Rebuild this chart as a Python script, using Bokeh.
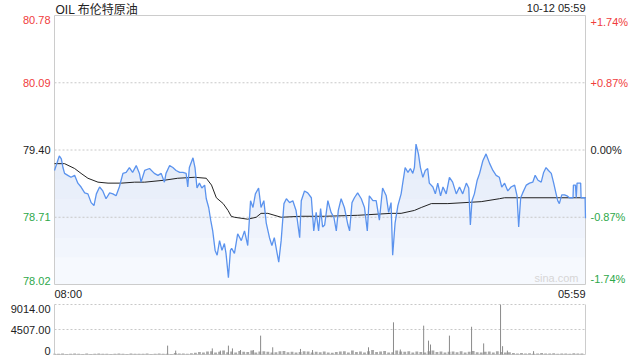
from bokeh.plotting import figure
from bokeh.models import Range1d, Label
from bokeh.layouts import column
from bokeh.embed import file_html
from bokeh.resources import INLINE

# ---------------- data ----------------
title_text = "OIL 布伦特原油"
stamp_text = "10-12 05:59"
start_label = "08:00"
end_label = "05:59"
watermark = "sina.com"
prev_close = 79.40
price_ticks = [80.78, 80.09, 79.40, 78.71, 78.02]
price_tick_labels = ["80.78", "80.09", "79.40", "78.71", "78.02"]
pct_tick_labels = ["+1.74%", "+0.87%", "0.00%", "-0.87%", "-1.74%"]
vol_ticks = [9014, 4507, 0]
vol_tick_labels = ["9014.00", "4507.00", "0"]
t_end = 1319  # minutes from 08:00 to 05:59

price_t = [0, 8, 12, 17, 21, 25, 33, 41, 50, 58, 66, 75, 83, 91, 98, 104, 112, 120, 128, 137, 145, 153, 161, 170, 178, 186, 194, 203, 211, 215, 224,
           236, 248, 257, 265, 273, 277, 286, 294, 302, 311, 319, 327, 331, 335, 344, 349, 354, 360, 366, 373, 377, 383, 388, 393, 399, 404, 410, 416, 422, 426, 432, 437, 440, 447,
           455, 464, 472, 480, 487, 493, 499, 507, 513, 520, 526, 534, 540, 546, 553, 557, 563, 570, 576, 584, 592, 600, 609, 613, 621, 629, 638, 644, 650, 656, 661, 666, 671,
           679, 687, 694, 700, 705, 712, 720, 729, 733, 739, 745, 753, 762, 770, 777, 782, 791, 799, 807, 815, 824, 830, 836, 840, 846, 853, 861, 865, 871, 878, 884, 890, 894,
           898, 904, 909, 915, 921, 927, 931, 940, 946, 952, 959, 965, 973, 981, 989, 998, 1006, 1014, 1023, 1029, 1033, 1037, 1043, 1050, 1056, 1064, 1072, 1081, 1089, 1097, 1105, 1111, 1118,
           1126, 1134, 1143, 1149, 1153, 1158, 1163, 1172, 1180, 1188, 1194, 1201, 1209, 1215, 1221, 1227, 1234, 1240, 1246, 1250, 1254, 1260, 1267, 1273, 1279, 1288, 1289, 1294, 1296, 1298, 1307, 1308, 1318, 1319]
price_v = [79.19, 79.29, 79.34, 79.31, 79.22, 79.16, 79.14, 79.12, 79.14, 79.06, 79.02, 78.96, 78.95, 78.86, 78.83, 78.95, 79.02, 78.98, 78.90, 78.96, 78.95, 78.93, 79.02, 79.16, 79.17, 79.22, 79.17, 79.24, 79.16, 79.07, 79.19,
           79.21, 79.16, 79.14, 79.16, 79.07, 79.16, 79.24, 79.22, 79.19, 79.17, 79.17, 79.16, 79.02, 79.22, 79.32, 79.22, 79.01, 79.06, 79.01, 79.04, 78.90, 78.81, 78.68, 78.57, 78.37, 78.32, 78.47, 78.37, 78.44, 78.34, 78.09, 78.37, 78.39, 78.34,
           78.54, 78.47, 78.57, 78.42, 78.88, 78.81, 78.95, 79.01, 78.81, 78.88, 78.65, 78.50, 78.42, 78.50, 78.34, 78.25, 78.47, 78.85, 78.90, 78.86, 78.88, 78.78, 78.50, 78.88, 78.98, 78.96, 78.91, 78.57, 78.76, 78.57, 78.80, 78.61, 78.63,
           78.88, 78.76, 78.71, 78.57, 78.78, 78.90, 78.81, 78.63, 78.57, 78.86, 78.91, 78.96, 78.90, 78.81, 78.57, 78.93, 78.88, 78.88, 78.68, 79.01, 78.93, 78.76, 78.86, 78.32, 78.65, 78.83, 78.95, 79.06, 79.22, 79.17, 79.21, 79.16, 79.22,
           79.46, 79.36, 79.22, 79.12, 79.19, 79.21, 79.06, 79.02, 78.95, 79.06, 78.93, 79.02, 78.95, 79.12, 79.07, 78.95, 79.02, 78.95, 79.06, 79.01, 78.63, 78.88, 78.95, 79.09, 79.16, 79.29, 79.36, 79.26, 79.19, 79.14, 79.12, 79.02, 79.06,
           78.98, 79.02, 79.04, 78.93, 78.61, 78.91, 78.96, 79.04, 79.06, 79.07, 79.14, 79.09, 79.07, 79.17, 79.22, 79.19, 79.16, 79.06, 78.95, 78.88, 78.85, 78.94, 78.94, 78.93, 78.91, 78.91, 79.04, 79.04, 78.91, 79.06, 79.06, 78.91, 78.91, 78.70]

avg_t = [0, 25, 50, 66, 83, 108, 133, 166, 199, 224, 273, 306, 348, 377, 390, 402, 419, 431, 439, 447, 480, 501, 513, 530, 563, 613, 671, 753, 836, 861, 894, 911, 936, 977, 1060, 1105, 1118, 1319]
avg_v = [79.26, 79.26, 79.21, 79.16, 79.11, 79.07, 79.06, 79.06, 79.07, 79.07, 79.09, 79.11, 79.12, 79.11, 79.04, 78.91, 78.85, 78.78, 78.72, 78.71, 78.69, 78.71, 78.75, 78.75, 78.71, 78.72, 78.72, 78.73, 78.75, 78.75, 78.78, 78.81, 78.85, 78.85, 78.87, 78.90, 78.91, 78.91]

# volume: background bars (every 10 minutes) and the visible spikes
vol_base = [150, 120, 180, 100, 140, 200, 130, 110, 160, 90, 140, 170, 120, 150, 100, 130, 180, 140, 110, 160, 120, 150, 130, 190, 100, 140, 160, 120, 150, 110, 250, 180, 200, 140, 220,
            300, 450, 380, 520, 600, 350, 480, 700, 420, 550, 380, 620, 500, 450, 700, 380, 520, 600, 480, 350, 420, 580, 650, 400, 500, 380, 450, 600, 520, 350, 480, 420, 550, 380, 300,
            450, 520, 600, 380, 700, 450, 520, 380, 600, 800, 450, 520, 650, 380, 420, 700, 550, 480, 600, 350, 520, 450, 380, 600, 700, 450, 520, 380, 480, 550, 420, 600, 380, 500, 650,
            420, 350, 480, 520, 380, 600, 450, 350, 400,
            250, 200, 280, 180, 220, 150, 200, 250, 180, 160, 220, 140, 200, 180, 150, 220, 170, 200]
spike_t = [281, 301, 392, 412, 432, 442, 462, 494, 512, 542, 611, 641, 780, 842, 859, 917, 929, 934, 981, 1036, 1066, 1108, 1113, 1125, 1190]
spike_v = [1600, 700, 1100, 700, 1600, 1100, 800, 800, 3400, 1300, 1000, 800, 1300, 5800, 900, 5200, 2500, 1800, 3400, 5000, 2000, 9000, 1500, 700, 600]

# ---------------- layout (pixels) ----------------
RED = "#f03c3c"
GREEN = "#2ea84a"
DARK = "#222222"
BLUE = "#5b93ee"
FONT = "Liberation Sans"
CJK = "Liberation Sans, Noto Sans CJK SC"

W = 640
X0, X1 = 54, 585            # plot area left/right in pixels
H1, PT, PB = 298, 15, 284   # price canvas height, plot area top/bottom
H2, VT, VB = 62, 6, 56      # volume canvas height, plot area top/bottom (within canvas)

mpp = t_end / (X1 - X0)
xr0, xr1 = -X0 * mpp, t_end + (W - X1) * mpp

ymin, ymax = price_ticks[-1], price_ticks[0]
dyp = (ymax - ymin) / (PB - PT)
yr0, yr1 = ymin - (H1 - PB) * dyp, ymax + PT * dyp

vmax = vol_ticks[0]
dv = vmax / (VB - VT)
vr0, vr1 = -(H2 - VB) * dv, vmax + VT * dv


def lab(p, x, y, text, color=DARK, align="left", baseline="middle", dx=0, size="11px", font=FONT):
    p.add_layout(Label(x=x, y=y, text=text, text_color=color, text_align=align,
                       text_baseline=baseline, x_offset=dx, text_font_size=size, text_font=font))


def color_for(v):
    if abs(v - prev_close) < 1e-9:
        return DARK
    return RED if v > prev_close else GREEN


def make_fig(h, y0, y1, xrange=None):
    p = figure(width=W, height=h, x_range=xrange if xrange is not None else Range1d(xr0, xr1),
               y_range=Range1d(y0, y1), x_axis_type=None, y_axis_type=None,
               toolbar_location=None, output_backend="svg", min_border=0)
    p.outline_line_color = None
    p.background_fill_color = "white"
    p.border_fill_color = "white"
    return p


# ---------------- price pane ----------------
p1 = make_fig(H1, yr0, yr1)

p1.varea(x=price_t, y1=[ymin] * len(price_t), y2=price_v, fill_color="#f6f9fe")
for lvl in [78.30, 78.50, 78.70, 78.90, 79.10, 79.30]:
    p1.varea(x=price_t, y1=[lvl] * len(price_t), y2=[max(v, lvl) for v in price_v],
             fill_color="#c6daf8", fill_alpha=0.08)

grid = price_ticks[1:-1]
p1.segment(x0=[0] * len(grid), y0=grid, x1=[t_end] * len(grid), y1=grid,
           line_color="#c8c8c8", line_dash="2 2", line_width=1)
p1.line(x=[0, t_end, t_end, 0, 0], y=[ymax, ymax, ymin, ymin, ymax], line_color="#cccccc", line_width=1)

p1.line(avg_t, avg_v, line_color="#222222", line_width=1)
p1.line(price_t, price_v, line_color=BLUE, line_width=1.3)

for v, t in zip(price_ticks, price_tick_labels):
    base = "top" if v == ymax else ("bottom" if v == ymin else "middle")
    lab(p1, 0, v, t, color=color_for(v), align="right", baseline=base, dx=-4)
for v, t in zip(price_ticks, pct_tick_labels):
    base = "top" if v == ymax else ("bottom" if v == ymin else "middle")
    lab(p1, t_end, v, t, color=color_for(v), align="left", baseline=base, dx=5)

lab(p1, 0, ymax + 13 * dyp, title_text, align="left", baseline="top", dx=1, size="12px", font=CJK)
lab(p1, t_end, ymax + 14 * dyp, stamp_text, align="right", baseline="top", dx=0)
lab(p1, 0, ymin - 3 * dyp, start_label, align="left", baseline="top", dx=0)
lab(p1, t_end, ymin - 3 * dyp, end_label, align="right", baseline="top", dx=0)
lab(p1, t_end, ymin + 1 * dyp, watermark, color="#d6d6d6", align="right", baseline="bottom", dx=-7)

# ---------------- volume pane ----------------
p2 = make_fig(H2, vr0, vr1, xrange=p1.x_range)

vgrid = vol_ticks[:-1]
p2.segment(x0=[0] * len(vgrid), y0=vgrid, x1=[t_end] * len(vgrid), y1=vgrid,
           line_color="#c8c8c8", line_dash="2 2", line_width=1)
p2.line(x=[0, 0, t_end, t_end], y=[vmax, 0, 0, vmax], line_color="#cccccc", line_width=1)

base_t = [10 * i for i in range(len(vol_base))]
p2.vbar(x=base_t, top=vol_base, bottom=0, width=7, fill_color="#a8a8a8", line_color=None)
p2.segment(x0=spike_t, y0=[0] * len(spike_t), x1=spike_t, y1=spike_v, line_color="#8a8a8a", line_width=1)

for v, t in zip(vol_ticks, vol_tick_labels):
    base = "top" if v == vmax else ("bottom" if v == 0 else "middle")
    lab(p2, 0, v, t, align="right", baseline=base, dx=-4)

layout = column(p1, p2, spacing=0)
open("out.html", "w").write(file_html(layout, INLINE))
